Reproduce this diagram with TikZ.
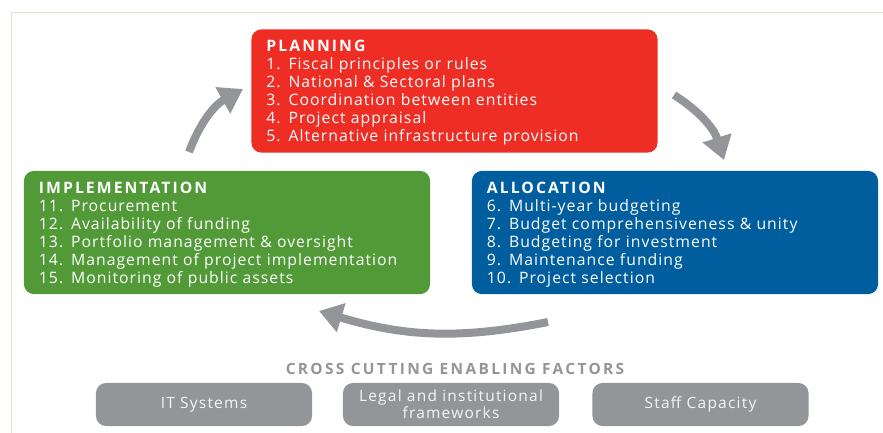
\documentclass[tikz,border=0pt]{standalone}
\usepackage{fontspec}
\setmainfont{Open Sans}
\newfontfamily\stagefont[LetterSpace=6.5]{Open Sans}
\newfontfamily\headfont[LetterSpace=13]{Open Sans}
\newfontfamily\titlefont[LetterSpace=15]{Open Sans}
\newfontfamily\factorfont[LetterSpace=8]{Open Sans}
\usetikzlibrary{arrows.meta}
\definecolor{planred}{HTML}{EE2D24}
\definecolor{implgreen}{HTML}{529A38}
\definecolor{allocblue}{HTML}{005E9E}
\definecolor{factorgray}{HTML}{939598}
\definecolor{framebeige}{HTML}{E6E2CF}
\newcommand\stagehead[1]{{\headfont\bfseries\rule{0pt}{11pt}#1}}

\begin{document}
\begin{tikzpicture}[x=0.025cm,y=-0.025cm,
  stage/.style={rounded corners=0.25cm,text=white,align=left,
    minimum height=3.08cm,text width=9.4cm,inner xsep=0.375cm,
    font=\stagefont\fontsize{11.2}{12.8}\selectfont},
  factor/.style={rounded corners=0.25cm,fill=factorgray,text=white!92!gray,
    minimum width=5.4cm,minimum height=1.075cm,align=center,
    font=\factorfont\fontsize{11}{10.5}\selectfont},
  cycle/.style={-{Triangle[width=0.72cm,length=0.58cm]},line width=0.2cm,
    factorgray}]
\useasboundingbox (0,0) rectangle (883,433);
% --- page frame ---
\draw[framebeige,line width=0.6pt] (11,433) -- (11,12) -- (883,12);

% --- the three stages ---
\node[stage,fill=planred] (plan) at (454.5,91)
  {\stagehead{PLANNING}\\
   1. Fiscal principles or rules\\
   2. National \& Sectoral plans\\
   3. Coordination between entities\\
   4. Project appraisal\\
   5. Alternative infrastructure provision};
\node[stage,fill=implgreen] (impl) at (227,232.5)
  {\stagehead{IMPLEMENTATION}\\
   11. Procurement\\
   12. Availability of funding\\
   13. Portfolio management \& oversight\\
   14. Management of project implementation\\
   15. Monitoring of public assets};
\node[stage,fill=allocblue] (alloc) at (675,232.5)
  {\stagehead{ALLOCATION}\\
   6. Multi-year budgeting\\
   7. Budget comprehensiveness \& unity\\
   8. Budgeting for investment\\
   9. Maintenance funding\\
   10. Project selection};

% --- cycle arrows ---
\coordinate (impl-out) at (189,152);
\coordinate (plan-in) at (243,89);
\coordinate (plan-out) at (674,95);
\coordinate (alloc-in) at (724,160);
\coordinate (alloc-out) at (548,322);
\coordinate (impl-in) at (319,311);
\draw[cycle] (impl-out) to[bend left=20] (plan-in);
\draw[cycle] (plan-out) to[bend left=20] (alloc-in);
\draw[cycle] (alloc-out) to[bend left=14] (impl-in);

% --- enabling factors ---
\node[text=factorgray,font=\titlefont\bfseries\fontsize{11}{12}\selectfont]
  (cross) at (455,369) {CROSS CUTTING ENABLING FACTORS};
\node[factor] (it) at (204,404.5) {IT Systems};
\node[factor] (legal) at (451,404.5) {Legal and institutional\\frameworks};
\node[factor] (staff) at (700.5,404.5) {Staff Capacity};
\end{tikzpicture}
\end{document}
